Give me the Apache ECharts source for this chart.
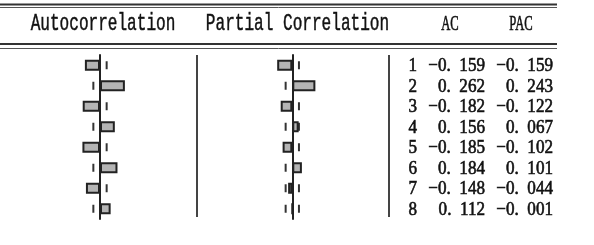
<!DOCTYPE html>
<html><head><meta charset="utf-8">
<script src="https://cdn.jsdelivr.net/npm/echarts@6/dist/echarts.min.js"></script>
<style>html,body{margin:0;padding:0;background:#fff}#c{width:594px;height:245px}</style>
</head><body><div id="c"></div>
<script>
const lags = ['1','2','3','4','5','6','7','8'];
const acValues = [-0.159, 0.262, -0.182, 0.156, -0.185, 0.184, -0.148, 0.112];
const pacValues = [-0.159, 0.243, -0.122, 0.067, -0.102, 0.101, -0.044, -0.001];
const confBound = 0.07;
const columnHeaders = ['AC', 'PAC'];
const panelTitles = ['Autocorrelation', 'Partial Correlation'];

function fmt(v){
  const s = Math.abs(v).toFixed(3).replace('.', '.\u2007');
  return (v < 0 ? '\u2212' : '') + s;
}

const chart = echarts.init(document.getElementById('c'), null, {renderer:'canvas'});
const gridTop = 55, gridH = 164;
const barStyle = {color:'#b4b4b4', borderColor:'#222', borderWidth:2};

function dashSeries(idx){
  return {
    type:'custom', xAxisIndex:idx, yAxisIndex:idx, z:1,
    data: lags.map((l,i)=>[i]),
    renderItem: function(params, api){
      const row = api.value(0);
      const kids = [-confBound, confBound].map(c=>{
        const p = api.coord([c, row]);
        return {type:'rect', shape:{x:p[0]-1, y:p[1]-4, width:2, height:8}, style:{fill:'#333'}};
      });
      return {type:'group', children:kids};
    }
  };
}

const tableRows = lags.map((l,i)=>[i, l, fmt(acValues[i]), fmt(pacValues[i])]);

const option = {
  animation:false,
  grid:[
    {left:52.5, width:95, top:gridTop, height:gridH},
    {left:244.8, width:95, top:gridTop, height:gridH},
    {left:349, width:204, top:gridTop, height:gridH}
  ],
  xAxis:[
    {gridIndex:0, type:'value', min:-0.5, max:0.5, show:false},
    {gridIndex:1, type:'value', min:-0.5, max:0.5, show:false},
    {gridIndex:2, type:'category', data:['lag','AC','PAC'], show:false}
  ],
  yAxis:[0,1].map(g=>({gridIndex:g, type:'category', data:lags, inverse:true,
    axisLine:{show:true, onZero:true, lineStyle:{color:'#222', width:2}},
    axisTick:{show:false}, axisLabel:{show:false}, splitLine:{show:false}}))
    .concat([{gridIndex:2, type:'category', data:lags, inverse:true, show:false}]),
  series:[
    dashSeries(0), dashSeries(1),
    {type:'bar', xAxisIndex:0, yAxisIndex:0, data:acValues, barWidth:11, itemStyle:barStyle, z:3},
    {type:'bar', xAxisIndex:1, yAxisIndex:1, data:pacValues, barWidth:11, itemStyle:barStyle, z:3},
    {type:'custom', xAxisIndex:2, yAxisIndex:2, data:tableRows,
     renderItem:function(params, api){
       const row = api.value(0);
       const kids = [];
       for (let c=0;c<3;c++){
         const p = api.coord([c, row]);
         const bw = api.size([1,0])[0];
         kids.push({type:'text', x:p[0]+bw/2, y:p[1]+1, scaleX:0.9,
           style:{text: tableRows[params.dataIndex][c+1], font:'19px "Liberation Serif"', fill:'#111', stroke:'#111', lineWidth:0.6, textAlign:'right', textVerticalAlign:'middle'}});
       }
       return {type:'group', children:kids};
     }}
  ],
  graphic:[
    {type:'line', shape:{x1:0,y1:4.5,x2:557,y2:4.5}, style:{stroke:'#333', lineWidth:2}},
    {type:'line', shape:{x1:0,y1:7.5,x2:557,y2:7.5}, style:{stroke:'#555', lineWidth:1}},
    {type:'line', shape:{x1:0,y1:44,x2:557,y2:44}, style:{stroke:'#333', lineWidth:2}},
    {type:'line', shape:{x1:0,y1:48.5,x2:557,y2:48.5}, style:{stroke:'#555', lineWidth:1}},
    {type:'line', shape:{x1:197,y1:55,x2:197,y2:217}, style:{stroke:'#444', lineWidth:2}},
    {type:'line', shape:{x1:389,y1:55,x2:389,y2:217}, style:{stroke:'#444', lineWidth:2}},
    {type:'text', x:103, y:24, scaleX:0.67, style:{text:panelTitles[0], font:'24px "Liberation Mono"', fill:'#111', stroke:'#111', lineWidth:0.5, textAlign:'center', textVerticalAlign:'middle'}},
    {type:'text', x:297.5, y:24, scaleX:0.67, style:{text:panelTitles[1], font:'24px "Liberation Mono"', fill:'#111', stroke:'#111', lineWidth:0.5, textAlign:'center', textVerticalAlign:'middle'}},
    {type:'text', x:450, y:24, scaleX:0.6, style:{text:columnHeaders[0], font:'21px "Liberation Serif"', fill:'#111', stroke:'#111', lineWidth:0.6, textAlign:'center', textVerticalAlign:'middle'}},
    {type:'text', x:521, y:24, scaleX:0.6, style:{text:columnHeaders[1], font:'21px "Liberation Serif"', fill:'#111', stroke:'#111', lineWidth:0.6, textAlign:'center', textVerticalAlign:'middle'}}
  ]
};
chart.setOption(option);
</script></body></html>
